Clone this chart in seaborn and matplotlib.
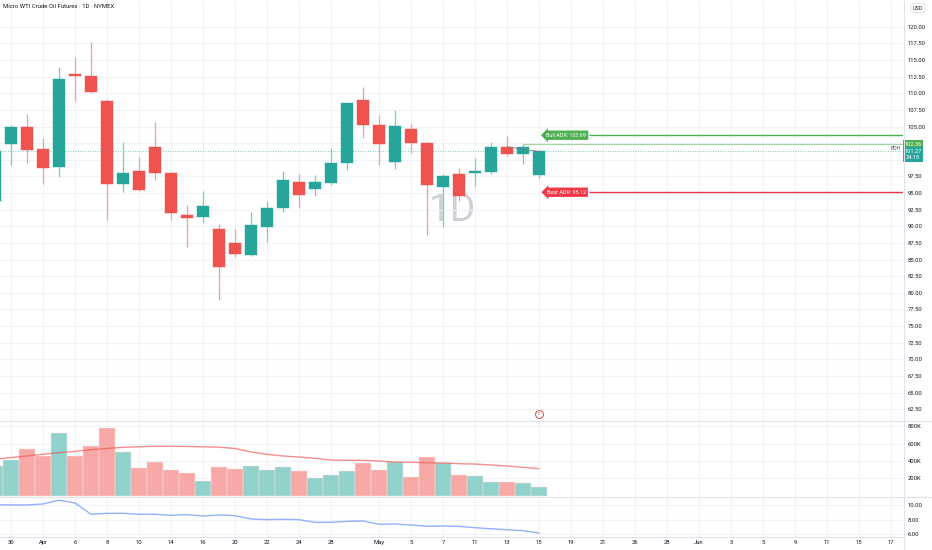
import numpy as np
import pandas as pd
import matplotlib
matplotlib.use("Agg")
import matplotlib.pyplot as plt
import seaborn as sns
from matplotlib.transforms import blended_transform_factory as btf
from matplotlib.lines import Line2D

# ---------------- data ----------------
idx = list(range(-1, 34))
opens = [93.8, 102.44, 104.94, 101.58, 98.92, 112.83, 112.53, 108.77, 96.42, 98.31,
         101.93, 97.97, 91.75, 91.34, 89.53, 87.47, 85.72, 89.88, 92.74, 96.61,
         95.60, 96.57, 99.58, 108.96, 105.30, 99.67, 104.59, 102.59, 95.90, 97.92,
         98.01, 98.22, 101.99, 100.93, 97.71]
highs = [101.6, 105.30, 106.85, 103.34, 113.89, 115.44, 117.70, 109.16, 102.64, 100.42,
         105.65, 98.22, 93.20, 95.36, 90.39, 89.64, 92.14, 93.75, 98.31, 97.82,
         97.67, 101.78, 108.55, 110.87, 106.70, 107.45, 105.39, 102.70, 97.92, 98.72,
         100.33, 102.64, 103.64, 102.36, 101.54]
lows = [93.3, 99.28, 99.58, 96.42, 97.41, 108.86, 110.10, 91.00, 95.15, 95.30,
        97.02, 91.00, 86.87, 90.48, 78.95, 85.36, 85.47, 87.58, 92.14, 92.74,
        94.55, 96.27, 98.42, 103.28, 99.22, 98.67, 101.08, 88.63, 89.88, 93.80,
        96.11, 97.92, 100.53, 99.43, 97.26]
closes = [101.3, 104.94, 101.43, 98.77, 112.08, 112.53, 110.17, 96.42, 97.97, 95.45,
          97.97, 91.99, 91.30, 93.10, 83.81, 85.77, 90.14, 92.80, 96.91, 94.76,
          96.61, 99.52, 108.46, 105.30, 102.44, 105.09, 102.59, 96.16, 97.56, 94.61,
          98.27, 101.93, 100.93, 101.93, 101.27]
volume_k = [346, 411, 539, 454, 724, 458, 577, 782, 500, 323,
            388, 300, 257, 169, 327, 308, 338, 296, 327, 288,
            203, 238, 284, 373, 300, 392, 215, 442, 381, 242,
            227, 161, 161, 150, 103]
volume_ma_k = [420, 440, 458, 478, 496, 512, 531, 546, 558, 565,
               570, 570, 568, 564, 560, 545, 504, 477, 458, 446,
               431, 411, 408, 408, 400, 388, 385, 381, 377, 369,
               365, 354, 342, 327, 311]
indicator = [10.04, 10.00, 10.00, 10.14, 10.65, 10.28, 8.72, 8.85, 8.85, 8.72,
             8.72, 8.58, 8.67, 8.48, 8.62, 8.53, 8.07, 7.98, 8.02, 7.98,
             7.61, 7.61, 7.75, 7.79, 7.34, 7.38, 7.24, 7.06, 7.10, 7.06,
             6.87, 6.73, 6.59, 6.46, 6.14]

xtick_pos = [0, 2, 4, 6, 8, 10, 12, 14, 16, 18, 20, 23, 25, 27, 29, 31, 33, 35,
             37, 39, 41, 43, 45, 47, 49, 51, 53, 55]
xtick_labels = ["30", "Apr", "6", "8", "10", "14", "16", "20", "22", "24", "28", "May",
                "5", "7", "11", "13", "15", "19", "21", "26", "28", "Jun", "3", "5",
                "9", "11", "15", "17"]
price_ticks = [62.5 + 2.5 * i for i in range(24)]
vol_ticks = [200000, 400000, 600000, 800000]
vol_tick_labels = ["200K", "400K", "600K", "800K"]
ind_ticks = [6, 8, 10]
ind_tick_labels = ["6.00", "8.00", "10.00"]

bull_adr = 103.69
bear_adr = 95.12
pdh = 102.36
last_price = 101.27
countdown = "24:15"
pdh_start = 32
seg_x = [31, 33.1]
seg_y = [101.95, 101.2]

# ---------------- style ----------------
sns.set_theme(style="white")
plt.rcParams["font.family"] = ["Roboto", "DejaVu Sans"]

UP, DOWN = "#26a69a", "#ef5350"
UP_V, DOWN_V = "#92d2cc", "#f7a9a7"
GRID = "#f0f3fa"
SEP = "#e0e3eb"
TXT = "#131722"

W, H = 932, 550
fig = plt.figure(figsize=(W / 100, H / 100), dpi=100, facecolor="white")


def px_axes(x0, y0, x1, y1):
    return fig.add_axes([x0 / W, 1 - y1 / H, (x1 - x0) / W, (y1 - y0) / H])


ax_p = px_axes(0, 0, 903, 420.7)
ax_v = px_axes(0, 420.7, 903, 496.7)
ax_i = px_axes(0, 496.7, 903, 537)

XL = (-0.6875, 55.75)

df = pd.DataFrame({"idx": idx, "open": opens, "high": highs, "low": lows,
                   "close": closes, "vol": np.array(volume_k) * 1000,
                   "ma": np.array(volume_ma_k) * 1000, "ind": indicator})
df["dir"] = np.where(df["close"] >= df["open"], "up", "down")

# ---------------- price pane ----------------
ax_p.text(27.56, 92.4, "1D", fontsize=28, color="#cdd0d6", ha="center", va="center",
          zorder=0.5)
cols = [UP if d == "up" else DOWN for d in df["dir"]]
wick_cols = ["#7cc9c2" if d == "up" else "#f59c9a" for d in df["dir"]]
ax_p.vlines(df["idx"], df["low"], df["high"], colors=wick_cols, lw=0.9, zorder=2)
body_lo = np.minimum(df["open"], df["close"])
body_h = np.maximum(np.abs(df["close"] - df["open"]), 0.15)
ax_p.bar(df["idx"], body_h, bottom=body_lo, width=0.75, color=cols, edgecolor=cols,
         linewidth=0.3, zorder=3)

ax_p.axhline(last_price, color=UP, ls=(0, (1, 2)), lw=0.6, alpha=0.8, zorder=1.5)
ax_p.hlines(pdh, pdh_start, XL[1], color="#a5d6a7", lw=0.9, zorder=1.6)
ax_p.plot(seg_x, seg_y, color="#787b86", lw=0.6, zorder=4)
ax_p.hlines(bull_adr, 36.1, XL[1], color="#4caf50", lw=1.0, zorder=1.6)
ax_p.hlines(bear_adr, 36.1, XL[1], color="#f23645", lw=1.0, zorder=1.6)

ax_p.text(34.7, bull_adr, f"Bull ADR: {bull_adr:.2f}", fontsize=3.9, color="white",
          ha="center", va="center", zorder=5,
          bbox=dict(boxstyle="larrow,pad=0.4", fc="#4caf50", ec="none"))
ax_p.text(34.7, bear_adr, f"Bear ADR: {bear_adr:.2f}", fontsize=3.9, color="white",
          ha="center", va="center", zorder=5,
          bbox=dict(boxstyle="larrow,pad=0.4", fc="#f23645", ec="none"))
ax_p.text(55.3, 101.63, "PDH", fontsize=3.8, color="#50535e", ha="center", va="center")

# event icon
ax_p.scatter([33], [61.82], s=32, facecolor="white", edgecolor="#c0504d", lw=0.7, zorder=5)
ax_p.text(33, 61.82, "E", fontsize=2.8, color="#c0504d", ha="center", va="center", zorder=6)

ax_p.set_ylim(60.77, 124.02)
ax_p.set_yticks(price_ticks)
ax_p.set_yticklabels(["" if t in (100.0, 102.5) else f"{t:.2f}" for t in price_ticks])

trp = btf(ax_p.transAxes, ax_p.transData)
ax_p.text(1.0015, pdh, f"{pdh:.2f}", transform=trp, fontsize=4.1, color="white",
          ha="left", va="center", clip_on=False, zorder=10,
          bbox=dict(boxstyle="square,pad=0.3", fc="#4caf50", ec="none"))
ax_p.text(1.0015, 100.78, f"{last_price:.2f}\n{countdown}", transform=trp, fontsize=4.1,
          color="white", ha="left", va="center", multialignment="center",
          linespacing=1.25, clip_on=False, zorder=10,
          bbox=dict(boxstyle="square,pad=0.3", fc=UP, ec="none"))

# ---------------- volume pane ----------------
sns.barplot(data=df, x="idx", y="vol", hue="dir", palette={"up": UP_V, "down": DOWN_V},
            native_scale=True, dodge=False, width=0.94, errorbar=None, legend=False,
            saturation=1, edgecolor="#fbe3e2", linewidth=0.3, ax=ax_v)
sns.lineplot(data=df, x="idx", y="ma", color=DOWN, alpha=0.65, lw=1.0, ax=ax_v)
ax_v.set_ylim(-12700, 866000)
ax_v.set_yticks(vol_ticks)
ax_v.set_yticklabels(vol_tick_labels)

# ---------------- indicator pane ----------------
sns.lineplot(data=df, x="idx", y="ind", color="#2962ff", alpha=0.5, lw=1.0, ax=ax_i)
ax_i.set_ylim(5.59, 11.14)
ax_i.set_yticks(ind_ticks)
ax_i.set_yticklabels(ind_tick_labels)

# ---------------- common axes styling ----------------
for ax in (ax_p, ax_v, ax_i):
    ax.set_xlim(*XL)
    ax.set_xticks(xtick_pos)
    ax.set_xlabel("")
    ax.set_ylabel("")
    ax.set_facecolor("white")
    for s in ax.spines.values():
        s.set_visible(False)
    ax.grid(True, color=GRID, lw=0.8, zorder=0)
    ax.set_axisbelow(True)
    ax.yaxis.tick_right()
    ax.tick_params(axis="y", which="both", length=0, pad=3.4, labelsize=4.2,
                   labelcolor=TXT, left=False, labelleft=False, right=False,
                   labelright=True)
    ax.tick_params(axis="x", length=0, labelbottom=False, bottom=False)

ax_i.set_xticklabels(xtick_labels)
ax_i.tick_params(axis="x", labelbottom=True, pad=2.4, labelsize=4.2, labelcolor=TXT)

# separators
for yy in (420.7, 496.7):
    fig.add_artist(Line2D([0, 1], [1 - yy / H, 1 - yy / H], transform=fig.transFigure,
                          color=SEP, lw=0.8))
fig.add_artist(Line2D([0, 903 / W], [1 - 537 / H, 1 - 537 / H], transform=fig.transFigure,
                      color=SEP, lw=0.8))
fig.add_artist(Line2D([903.5 / W, 903.5 / W], [0, 1], transform=fig.transFigure,
                      color=SEP, lw=0.8))

# header texts
fig.text(3 / W, 1 - 7 / H, "Micro WTI Crude Oil Futures · 1D · NYMEX", fontsize=4.3,
         color=TXT, ha="left", va="center")
fig.text(918 / W, 1 - 8 / H, "USD", fontsize=3.9, color=TXT, ha="center", va="center",
         bbox=dict(boxstyle="round,pad=0.35", fc="white", ec=SEP, lw=0.6))

fig.savefig("out.png", dpi=100, facecolor="white")
